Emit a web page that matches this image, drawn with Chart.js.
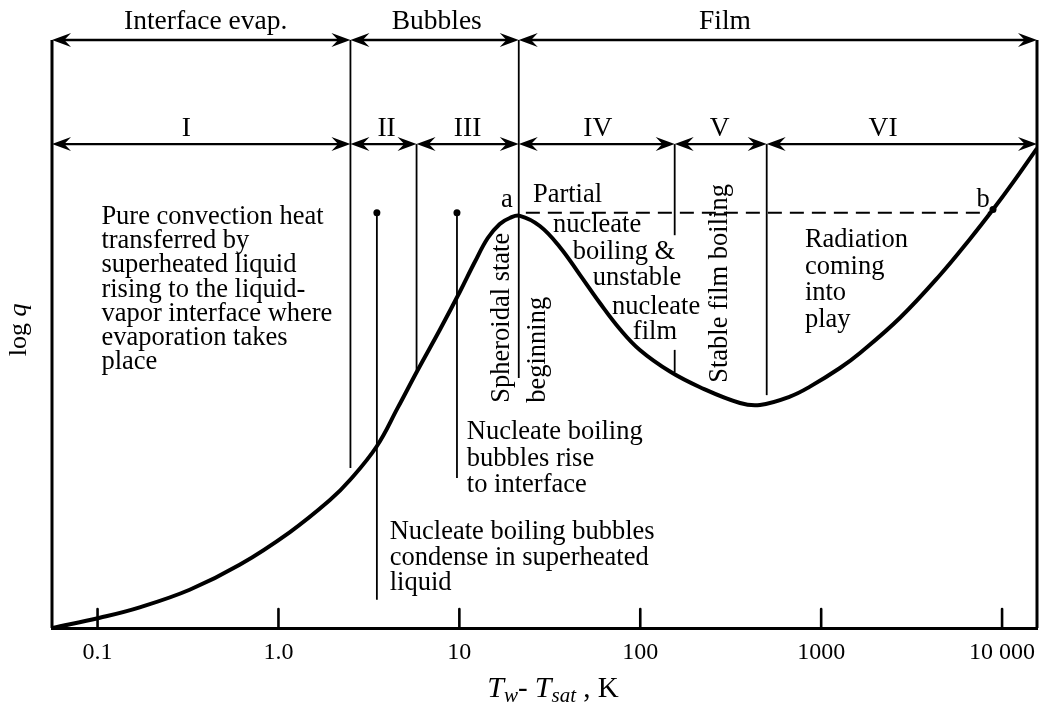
<!DOCTYPE html>
<html>
<head>
<meta charset="utf-8">
<title>Boiling curve</title>
<script src="https://cdn.jsdelivr.net/npm/chart.js@4.4.1/dist/chart.umd.min.js"></script>
<style>
  html, body { margin: 0; padding: 0; background: #fff; }
  #wrap { width: 1049px; height: 704px; position: relative; }
</style>
</head>
<body>
<div id="wrap"><canvas id="boiling-chart"></canvas></div>
<script>
// wall superheat Tw - Tsat (K) and log q (arbitrary units) along the boiling curve
const superheat = [0.0564, 0.103, 0.171, 0.323, 0.610, 1.153, 1.919, 2.477, 3.49, 4.56, 5.89,
  7.79, 10.05, 12.17, 14.36, 16.73, 19.0, 21.6, 27.85, 35.9, 46.3, 59.8, 77.1, 99.5, 146, 214,
  356, 459, 672, 867, 1270, 1640, 2730, 4540, 6650, 8910, 11500, 15600];
const logQ = [0, 0.175, 0.352, 0.650, 1.075, 1.628, 2.172, 2.512, 3.087, 3.743, 4.388,
  5.068, 5.714, 6.224, 6.633, 6.871, 6.973, 7.01, 6.837, 6.480, 6.010, 5.527, 5.085, 4.728, 4.361, 4.095,
  3.827, 3.793, 3.935, 4.105, 4.422, 4.677, 5.276, 6.003, 6.616, 7.116, 7.578, 8.158];

const tickValues = [0.1, 1, 10, 100, 1000, 10000];
const tickLabels = ["0.1", "1.0", "10", "100", "1000", "10 000"];

// regimes along the superheat axis
const xMin = 0.056;
const xMax = 15600;
const mechanismBounds = [xMin, 2.5, 21.3, xMax];
const mechanismNames = ["Interface evap.", "Bubbles", "Film"];
const regimeBounds = [xMin, 2.5, 5.8, 21.3, 155, 500, xMax];
const regimeNames = ["I", "II", "III", "IV", "V", "VI"];

// peak heat flux (a) and the point on the radiation branch with the same flux (b)
const pointA = { x: 21.6, y: 7.01 };
const pointB = { x: 8910, y: 7.116 };
const peakLevel = 7.06;

const serif = '"Liberation Serif", "Times New Roman", serif';
const textSize = 26.5;

function arrowHead(ctx, x, y, dir) {
  const len = 19, half = 7;
  ctx.beginPath();
  ctx.moveTo(x, y);
  ctx.lineTo(x - dir * len, y - half);
  ctx.lineTo(x - dir * len * 0.65, y);
  ctx.lineTo(x - dir * len, y + half);
  ctx.closePath();
  ctx.fill();
}

function spanArrow(ctx, x1, x2, y, width) {
  ctx.lineWidth = width;
  ctx.beginPath();
  ctx.moveTo(x1 + 8, y);
  ctx.lineTo(x2 - 8, y);
  ctx.stroke();
  arrowHead(ctx, x1, y, -1);
  arrowHead(ctx, x2, y, 1);
}

function vline(ctx, x, y1, y2, width) {
  ctx.lineWidth = width;
  ctx.beginPath();
  ctx.moveTo(x, y1);
  ctx.lineTo(x, y2);
  ctx.stroke();
}

function dot(ctx, x, y, r) {
  ctx.beginPath();
  ctx.arc(x, y, r, 0, Math.PI * 2);
  ctx.fill();
}

function textBlock(ctx, rows, x, y, lineHeight) {
  rows.forEach((row, i) => ctx.fillText(row, x, y + i * lineHeight));
}

function rotatedText(ctx, text, x, y) {
  ctx.save();
  ctx.translate(x, y);
  ctx.rotate(-Math.PI / 2);
  ctx.textAlign = "left";
  ctx.fillText(text, 0, 0);
  ctx.restore();
}

// text made of runs in different styles (italic symbols, subscripts)
function runsWidth(ctx, runs) {
  return runs.reduce((w, r) => {
    ctx.font = r.font;
    return w + ctx.measureText(r.text).width;
  }, 0);
}

function drawRuns(ctx, runs, x, y) {
  ctx.textAlign = "left";
  ctx.textBaseline = "alphabetic";
  let cx = x;
  runs.forEach((r) => {
    ctx.font = r.font;
    ctx.fillText(r.text, cx, y + (r.dy || 0));
    cx += ctx.measureText(r.text).width;
  });
}

const boilingOverlay = {
  id: "boilingOverlay",
  afterDatasetsDraw(chart) {
    const { ctx, chartArea: area, scales } = chart;
    const X = (v) => scales.x.getPixelForValue(v);
    const Y = (v) => scales.y.getPixelForValue(v);

    ctx.save();
    ctx.strokeStyle = "#000";
    ctx.fillStyle = "#000";
    ctx.lineCap = "butt";

    // side frame
    vline(ctx, area.left, Y(10), area.bottom, 3);
    vline(ctx, area.right, Y(10), area.bottom, 3);

    // inward tick marks
    ctx.lineCap = "round";
    tickValues.forEach((v) => vline(ctx, X(v), area.bottom - 19, area.bottom, 2.6));
    ctx.lineCap = "butt";

    // regime boundaries
    vline(ctx, X(2.5), Y(10), Y(2.72), 1.8);
    vline(ctx, X(21.3), Y(10), Y(4.25), 1.8);
    vline(ctx, X(5.8), Y(8.23), Y(4.39), 1.8);
    vline(ctx, X(155), Y(8.23), Y(6.68), 1.8);
    vline(ctx, X(155), Y(4.73), Y(4.35), 1.8);
    vline(ctx, X(500), Y(8.23), Y(3.96), 1.8);

    // pointer lines with dots
    vline(ctx, X(3.5), Y(peakLevel), Y(0.48), 1.8);
    vline(ctx, X(9.7), Y(peakLevel), Y(2.55), 1.8);
    dot(ctx, X(3.5), Y(peakLevel), 3.5);
    dot(ctx, X(9.7), Y(peakLevel), 3.5);

    // span arrows
    for (let i = 0; i < mechanismNames.length; i++) {
      spanArrow(ctx, X(mechanismBounds[i]), X(mechanismBounds[i + 1]), Y(10), 2.6);
    }
    for (let i = 0; i < regimeNames.length; i++) {
      spanArrow(ctx, X(regimeBounds[i]), X(regimeBounds[i + 1]), Y(8.23), 2.2);
    }

    // dashed line a-b at the peak heat flux
    ctx.lineWidth = 2;
    ctx.setLineDash([14, 8]);
    ctx.beginPath();
    ctx.moveTo(X(pointA.x) + 6, Y(peakLevel));
    ctx.lineTo(X(8500), Y(peakLevel));
    ctx.stroke();
    ctx.setLineDash([]);
    dot(ctx, X(pointB.x), Y(pointB.y), 3.5);

    // labels
    ctx.font = "27.5px " + serif;
    ctx.textBaseline = "middle";
    ctx.textAlign = "center";
    const mechanismAt = [0.396, 7.5, 294];
    mechanismNames.forEach((t, i) => ctx.fillText(t, X(mechanismAt[i]), Y(10.31)));
    const regimeAt = [0.31, 3.96, 11.1, 58.3, 275, 2200];
    regimeNames.forEach((t, i) => ctx.fillText(t, X(regimeAt[i]), Y(8.49)));

    ctx.font = textSize + "px " + serif;
    ctx.fillText("a", X(18.3), Y(7.28));
    ctx.fillText("b", X(7850), Y(7.28));

    ctx.textAlign = "left";
    textBlock(ctx, ["Pure convection heat", "transferred by", "superheated liquid",
      "rising to the liquid-", "vapor interface where", "evaporation takes", "place"],
      X(0.105), Y(6.99), 24.2);

    ctx.fillText("Partial", X(25.5), Y(7.36));
    ctx.fillText("nucleate", X(32.9), Y(6.85));
    ctx.fillText("boiling &", X(42.4), Y(6.39));
    ctx.fillText("unstable", X(54.7), Y(5.95));
    ctx.fillText("nucleate", X(69.7), Y(5.46));
    ctx.fillText("film", X(91.0), Y(5.03));

    textBlock(ctx, ["Radiation", "coming", "into", "play"], X(813), Y(6.60), 26.7);
    textBlock(ctx, ["Nucleate boiling", "bubbles rise", "to interface"], X(11.0), Y(3.33), 26.5);
    textBlock(ctx, ["Nucleate boiling bubbles", "condense in superheated", "liquid"],
      X(4.12), Y(1.63), 25.5);

    rotatedText(ctx, "Spheroidal state", X(17.2), Y(3.83));
    rotatedText(ctx, "beginning", X(27.1), Y(3.83));
    rotatedText(ctx, "Stable film boiling", X(275), Y(4.17));

    // axis titles
    const big = "italic 30px " + serif;
    const sub = "italic 21px " + serif;
    const plain = "29px " + serif;
    const xTitle = [
      { text: "T", font: big }, { text: "w", font: sub, dy: 5 },
      { text: "- ", font: plain }, { text: "T", font: big },
      { text: "sat", font: sub, dy: 5 }, { text: " , K", font: plain },
    ];
    drawRuns(ctx, xTitle, 553 - runsWidth(ctx, xTitle) / 2, 697);

    const yPlain = "26px " + serif;
    const yItalic = "italic 26px " + serif;
    const yTitle = [{ text: "log ", font: yPlain }, { text: "q", font: yItalic }];
    ctx.save();
    ctx.translate(area.left - 26, Y(5.07));
    ctx.rotate(-Math.PI / 2);
    drawRuns(ctx, yTitle, -runsWidth(ctx, yTitle) / 2, 0);
    ctx.restore();

    ctx.restore();
  },
};

new Chart(document.getElementById("boiling-chart"), {
  type: "line",
  data: {
    datasets: [
      {
        data: superheat.map((t, i) => ({ x: t, y: logQ[i] })),
        borderColor: "#000",
        borderWidth: 4,
        pointRadius: 0,
        tension: 0.4,
        fill: false,
      },
    ],
  },
  options: {
    responsive: true,
    maintainAspectRatio: false,
    animation: false,
    layout: { padding: { left: 52, right: 12, top: 40, bottom: 0 } },
    plugins: { legend: { display: false }, tooltip: { enabled: false } },
    scales: {
      x: {
        type: "logarithmic",
        min: xMin,
        max: xMax,
        afterBuildTicks: (scale) => {
          scale.ticks = tickValues.map((v) => ({ value: v }));
        },
        afterFit: (scale) => {
          scale.height = 76;
        },
        grid: { display: false, drawTicks: false },
        border: { display: true, color: "#000", width: 3 },
        ticks: {
          autoSkip: false,
          maxRotation: 0,
          padding: 10,
          color: "#000",
          font: { family: serif, size: 24 },
          callback: (value, index) => tickLabels[index],
        },
      },
      y: { display: false, min: 0, max: 10 },
    },
  },
  plugins: [boilingOverlay],
});
</script>
</body>
</html>
